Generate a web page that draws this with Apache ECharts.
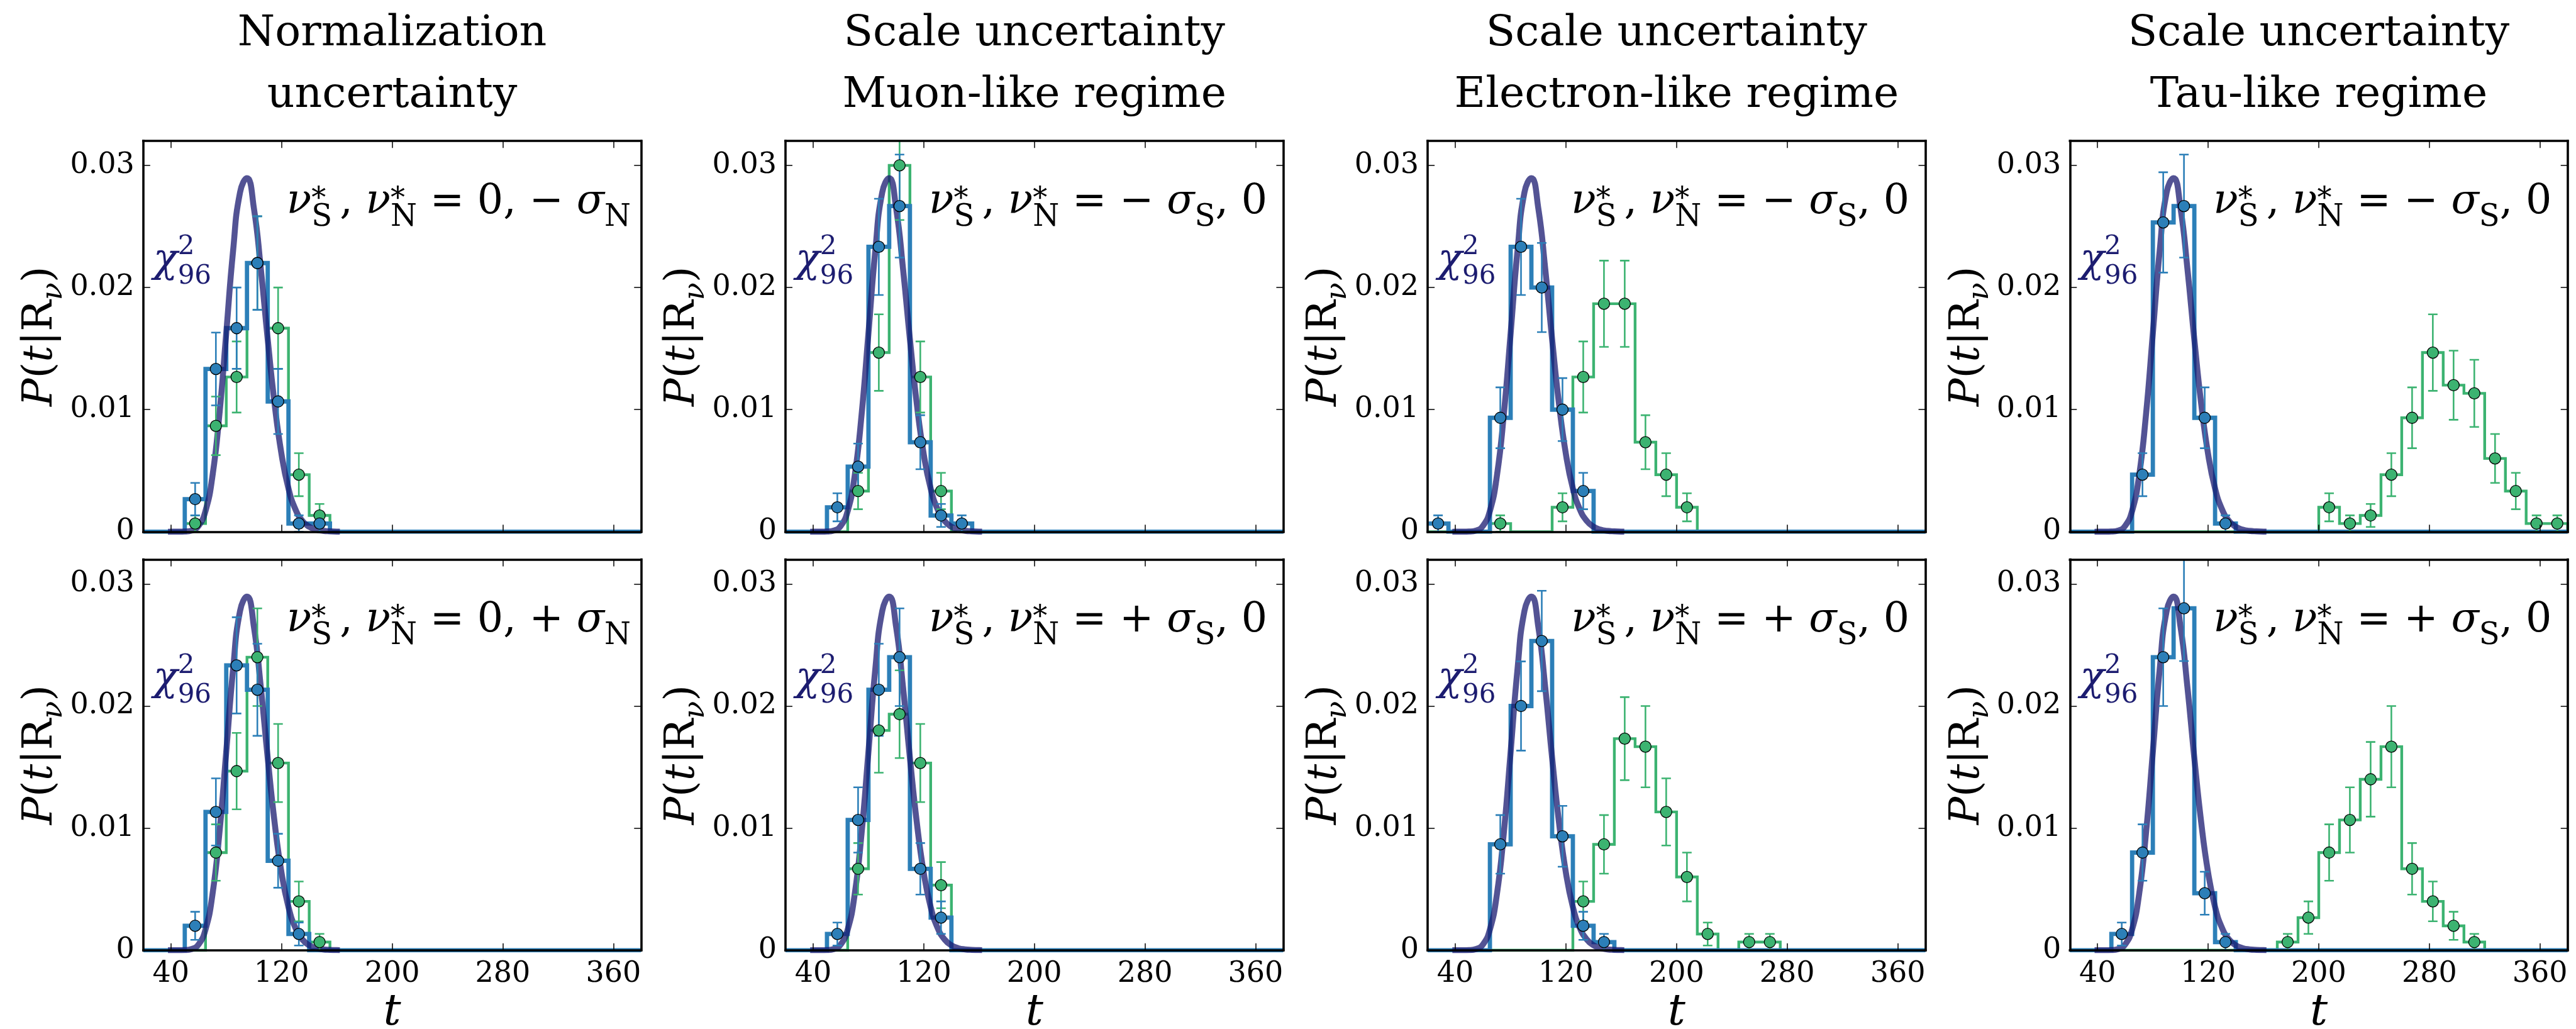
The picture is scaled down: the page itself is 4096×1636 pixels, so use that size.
<!DOCTYPE html>
<html>
<head>
<meta charset="utf-8">
<script src="https://cdn.jsdelivr.net/npm/echarts@6/dist/echarts.min.js"></script>
<style>
  html, body { margin: 0; padding: 0; background: #ffffff; }
  #chart { width: 4096px; height: 1636px; }
</style>
</head>
<body>
<div id="chart"></div>
<script>
// ---- histogram binning (t) and axis ticks ----
const binEdges = [20, 35, 50, 65, 80, 95, 110, 125, 140, 155, 170, 185, 200, 215, 230, 245, 260, 275, 290, 305, 320, 335, 350, 365, 380];
const xTicks = [40, 120, 200, 280, 360];
const yTicks = [0, 0.01, 0.02, 0.03];

// ---- chi^2 (96 dof) reference density ----
const chiT = [40, 45, 50, 55, 60, 65, 70, 75, 80, 85, 90, 95, 100, 105, 110, 115, 120, 125, 130, 135, 140, 145, 150, 155, 160];
const chiP = [0.0000001, 0.0000012, 0.0000135, 0.000098, 0.000481, 0.0017, 0.00454, 0.00954, 0.01626, 0.02307, 0.0278, 0.02896, 0.02649, 0.02154, 0.01574, 0.01044, 0.00633, 0.00354, 0.00184, 0.00089, 0.0004, 0.00017, 0.00007, 0.00003, 0.00001];

// ---- normalization uncertainty ----
const normMinusBlue     = [0, 0, 0.00267, 0.01333, 0.01667, 0.022, 0.01067, 0.00067, 0.00067, 0, 0, 0, 0, 0, 0, 0, 0, 0, 0, 0, 0, 0, 0, 0];
const normMinusBlueErr  = [0, 0, 0.00133, 0.00298, 0.00333, 0.00383, 0.00267, 0.00067, 0.00067, 0, 0, 0, 0, 0, 0, 0, 0, 0, 0, 0, 0, 0, 0, 0];
const normMinusGreen    = [0, 0, 0.00067, 0.00867, 0.01267, 0.022, 0.01667, 0.00467, 0.00133, 0, 0, 0, 0, 0, 0, 0, 0, 0, 0, 0, 0, 0, 0, 0];
const normMinusGreenErr = [0, 0, 0.00067, 0.0024, 0.00291, 0.00383, 0.00333, 0.00176, 0.00094, 0, 0, 0, 0, 0, 0, 0, 0, 0, 0, 0, 0, 0, 0, 0];

const normPlusBlue      = [0, 0, 0.002, 0.01133, 0.02333, 0.02133, 0.00733, 0.00133, 0, 0, 0, 0, 0, 0, 0, 0, 0, 0, 0, 0, 0, 0, 0, 0];
const normPlusBlueErr   = [0, 0, 0.00115, 0.00275, 0.00394, 0.00377, 0.00221, 0.00094, 0, 0, 0, 0, 0, 0, 0, 0, 0, 0, 0, 0, 0, 0, 0, 0];
const normPlusGreen     = [0, 0, 0, 0.008, 0.01467, 0.024, 0.01533, 0.004, 0.00067, 0, 0, 0, 0, 0, 0, 0, 0, 0, 0, 0, 0, 0, 0, 0];
const normPlusGreenErr  = [0, 0, 0, 0.00231, 0.00313, 0.004, 0.0032, 0.00163, 0.00067, 0, 0, 0, 0, 0, 0, 0, 0, 0, 0, 0, 0, 0, 0, 0];

// ---- scale uncertainty, muon-like ----
const muonMinusBlue     = [0, 0, 0.002, 0.00533, 0.02333, 0.02667, 0.00733, 0.00133, 0.00067, 0, 0, 0, 0, 0, 0, 0, 0, 0, 0, 0, 0, 0, 0, 0];
const muonMinusBlueErr  = [0, 0, 0.00115, 0.00189, 0.00394, 0.00422, 0.00221, 0.00094, 0.00067, 0, 0, 0, 0, 0, 0, 0, 0, 0, 0, 0, 0, 0, 0, 0];
const muonMinusGreen    = [0, 0, 0, 0.00333, 0.01467, 0.03, 0.01267, 0.00333, 0, 0, 0, 0, 0, 0, 0, 0, 0, 0, 0, 0, 0, 0, 0, 0];
const muonMinusGreenErr = [0, 0, 0, 0.00149, 0.00313, 0.00447, 0.00291, 0.00149, 0, 0, 0, 0, 0, 0, 0, 0, 0, 0, 0, 0, 0, 0, 0, 0];

const muonPlusBlue      = [0, 0, 0.00133, 0.01067, 0.02133, 0.024, 0.00667, 0.00267, 0, 0, 0, 0, 0, 0, 0, 0, 0, 0, 0, 0, 0, 0, 0, 0];
const muonPlusBlueErr   = [0, 0, 0.00094, 0.00267, 0.00377, 0.004, 0.00211, 0.00133, 0, 0, 0, 0, 0, 0, 0, 0, 0, 0, 0, 0, 0, 0, 0, 0];
const muonPlusGreen     = [0, 0, 0, 0.00667, 0.018, 0.01933, 0.01533, 0.00533, 0, 0, 0, 0, 0, 0, 0, 0, 0, 0, 0, 0, 0, 0, 0, 0];
const muonPlusGreenErr  = [0, 0, 0, 0.00211, 0.00346, 0.00359, 0.0032, 0.00189, 0, 0, 0, 0, 0, 0, 0, 0, 0, 0, 0, 0, 0, 0, 0, 0];

// ---- scale uncertainty, electron-like ----
const electronMinusBlue     = [0.00067, 0, 0, 0.00933, 0.02333, 0.02, 0.01, 0.00333, 0, 0, 0, 0, 0, 0, 0, 0, 0, 0, 0, 0, 0, 0, 0, 0];
const electronMinusBlueErr  = [0.00067, 0, 0, 0.00249, 0.00394, 0.00365, 0.00258, 0.00149, 0, 0, 0, 0, 0, 0, 0, 0, 0, 0, 0, 0, 0, 0, 0, 0];
const electronMinusGreen    = [0, 0, 0, 0.00067, 0, 0, 0.002, 0.01267, 0.01867, 0.01867, 0.00733, 0.00467, 0.002, 0, 0, 0, 0, 0, 0, 0, 0, 0, 0, 0];
const electronMinusGreenErr = [0, 0, 0, 0.00067, 0, 0, 0.00115, 0.00291, 0.00353, 0.00353, 0.00221, 0.00176, 0.00115, 0, 0, 0, 0, 0, 0, 0, 0, 0, 0, 0];

const electronPlusBlue      = [0, 0, 0, 0.00867, 0.02, 0.02533, 0.00933, 0.002, 0.00067, 0, 0, 0, 0, 0, 0, 0, 0, 0, 0, 0, 0, 0, 0, 0];
const electronPlusBlueErr   = [0, 0, 0, 0.0024, 0.00365, 0.00411, 0.00249, 0.00115, 0.00067, 0, 0, 0, 0, 0, 0, 0, 0, 0, 0, 0, 0, 0, 0, 0];
const electronPlusGreen     = [0, 0, 0, 0, 0, 0, 0, 0.004, 0.00867, 0.01733, 0.01667, 0.01133, 0.006, 0.00133, 0, 0.00067, 0.00067, 0, 0, 0, 0, 0, 0, 0];
const electronPlusGreenErr  = [0, 0, 0, 0, 0, 0, 0, 0.00163, 0.0024, 0.0034, 0.00333, 0.00275, 0.002, 0.00094, 0, 0.00067, 0.00067, 0, 0, 0, 0, 0, 0, 0];

// ---- scale uncertainty, tau-like ----
const tauMinusBlue      = [0, 0, 0, 0.00467, 0.02533, 0.02667, 0.00933, 0.00067, 0, 0, 0, 0, 0, 0, 0, 0, 0, 0, 0, 0, 0, 0, 0, 0];
const tauMinusBlueErr   = [0, 0, 0, 0.00176, 0.00411, 0.00422, 0.00249, 0.00067, 0, 0, 0, 0, 0, 0, 0, 0, 0, 0, 0, 0, 0, 0, 0, 0];
const tauMinusGreen     = [0, 0, 0, 0, 0, 0, 0, 0, 0, 0, 0, 0, 0.002, 0.00067, 0.00133, 0.00467, 0.00933, 0.01467, 0.012, 0.01133, 0.006, 0.00333, 0.00067, 0.00067];
const tauMinusGreenErr  = [0, 0, 0, 0, 0, 0, 0, 0, 0, 0, 0, 0, 0.00115, 0.00067, 0.00094, 0.00176, 0.00249, 0.00313, 0.00283, 0.00275, 0.002, 0.00149, 0.00067, 0.00067];

const tauPlusBlue       = [0, 0, 0.00133, 0.008, 0.024, 0.028, 0.00467, 0.00067, 0, 0, 0, 0, 0, 0, 0, 0, 0, 0, 0, 0, 0, 0, 0, 0];
const tauPlusBlueErr    = [0, 0, 0.00094, 0.00231, 0.004, 0.00432, 0.00176, 0.00067, 0, 0, 0, 0, 0, 0, 0, 0, 0, 0, 0, 0, 0, 0, 0, 0];
const tauPlusGreen      = [0, 0, 0, 0, 0, 0, 0, 0, 0, 0, 0.00067, 0.00267, 0.008, 0.01067, 0.014, 0.01667, 0.00667, 0.004, 0.002, 0.00067, 0, 0, 0, 0];
const tauPlusGreenErr   = [0, 0, 0, 0, 0, 0, 0, 0, 0, 0, 0.00067, 0.00133, 0.00231, 0.00267, 0.00306, 0.00333, 0.00211, 0.00163, 0.00115, 0.00067, 0, 0, 0, 0];

// ---- column titles ----
const columnTitles = [
  ['Normalization', 'uncertainty'],
  ['Scale uncertainty', 'Muon-like regime'],
  ['Scale uncertainty', 'Electron-like regime'],
  ['Scale uncertainty', 'Tau-like regime']
];

// ---- nuisance-parameter settings written in each panel ----
const nuHead = '{it|ν}{sp|*}{sb|S}{gap| }{rm|, }{it|ν}{sp|*}{sb|N}{rm| = }';
const shiftLabels = {
  normMinus: '{rm|0, − }{it|σ}{sb|N}',
  normPlus:  '{rm|0, + }{it|σ}{sb|N}',
  scaleMinus: '{rm|− }{it|σ}{sb|S}{rm|, 0}',
  scalePlus:  '{rm|+ }{it|σ}{sb|S}{rm|, 0}'
};

const panels = [
  { col: 0, row: 0, blue: normMinusBlue, blueErr: normMinusBlueErr, green: normMinusGreen, greenErr: normMinusGreenErr, shift: 'normMinus' },
  { col: 1, row: 0, blue: muonMinusBlue, blueErr: muonMinusBlueErr, green: muonMinusGreen, greenErr: muonMinusGreenErr, shift: 'scaleMinus' },
  { col: 2, row: 0, blue: electronMinusBlue, blueErr: electronMinusBlueErr, green: electronMinusGreen, greenErr: electronMinusGreenErr, shift: 'scaleMinus' },
  { col: 3, row: 0, blue: tauMinusBlue, blueErr: tauMinusBlueErr, green: tauMinusGreen, greenErr: tauMinusGreenErr, shift: 'scaleMinus' },
  { col: 0, row: 1, blue: normPlusBlue, blueErr: normPlusBlueErr, green: normPlusGreen, greenErr: normPlusGreenErr, shift: 'normPlus' },
  { col: 1, row: 1, blue: muonPlusBlue, blueErr: muonPlusBlueErr, green: muonPlusGreen, greenErr: muonPlusGreenErr, shift: 'scalePlus' },
  { col: 2, row: 1, blue: electronPlusBlue, blueErr: electronPlusBlueErr, green: electronPlusGreen, greenErr: electronPlusGreenErr, shift: 'scalePlus' },
  { col: 3, row: 1, blue: tauPlusBlue, blueErr: tauPlusBlueErr, green: tauPlusGreen, greenErr: tauPlusGreenErr, shift: 'scalePlus' }
];

// ---- layout and style ----
const S = 0.93;
const colLeft = [245, 1343, 2441, 3539].map(v => v * S);
const rowTop = [241, 956.5].map(v => v * S);
const panelW = 851 * S;
const panelH = 668 * S;
const FONT = 'DejaVu Serif';
const BLUE = '#2c7fb8';
const GREEN = '#3cb371';
const CHI_LINE = 'rgba(25,25,112,0.75)';
const CHI_TEXT = '#1c1c70';
const TICK_FONT = 46;

const binCenters = binEdges.slice(0, -1).map((e, i) => (e + binEdges[i + 1]) / 2);

function stepData(vals) {
  const last = binEdges[binEdges.length - 1];
  const d = vals.map((v, i) => [binEdges[i], v]);
  d.push([last, vals[vals.length - 1]]);
  d.push([last, 0]);
  return d;
}
function pointData(vals, errs) {
  const d = [];
  vals.forEach((v, i) => { if (v > 0) d.push([binCenters[i], v, errs[i]]); });
  return d;
}

// rich-text token: size, baseline shift (+ down), italic, baseline offset B of the block
function tok(size, shift, italic, B, color, extra) {
  return Object.assign({
    fontSize: size, fontFamily: FONT, fontStyle: italic ? 'italic' : 'normal',
    fill: color, color: color, height: size, lineHeight: size, verticalAlign: 'top',
    padding: [Math.max(0, B + shift - 0.83 * size), 0, 0, 0]
  }, extra || {});
}

const B_NU = 56;
const richNu = {
  it: tok(65, 0, true, B_NU, '#000'),
  rm: tok(65, 0, false, B_NU, '#000'),
  sp: tok(46, -10, false, B_NU, '#000', { width: 0 }),
  sb: tok(48, 19, false, B_NU, '#000'),
  gap: tok(65, 0, false, B_NU, '#000', { width: 12 })
};
const B_CHI = 64;
const richChi = {
  chi: tok(64, 0, true, B_CHI, CHI_TEXT),
  csp: tok(42, -29, false, B_CHI, CHI_TEXT, { width: 0 }),
  csb: tok(42, 18, false, B_CHI, CHI_TEXT)
};
const B_Y = 56;
const richY = {
  it: tok(66, 0, true, B_Y, '#000'),
  rm: tok(66, 0, false, B_Y, '#000'),
  sb: tok(46, 14, true, B_Y, '#000')
};

function errorBarRenderer(capHalf, lw) {
  return function (params, api) {
    const x = api.value(0), y = api.value(1), e = api.value(2);
    const top = api.coord([x, Math.min(y + e, 0.032)]);
    const bot = api.coord([x, Math.max(y - e, 0)]);
    const style = { stroke: api.visual('color'), lineWidth: lw, fill: null };
    const children = [
      { type: 'line', shape: { x1: top[0], y1: top[1], x2: bot[0], y2: bot[1] }, style: style }
    ];
    if (y + e <= 0.032) children.push({ type: 'line', shape: { x1: top[0] - capHalf, y1: top[1], x2: top[0] + capHalf, y2: top[1] }, style: style });
    children.push({ type: 'line', shape: { x1: bot[0] - capHalf, y1: bot[1], x2: bot[0] + capHalf, y2: bot[1] }, style: style });
    return { type: 'group', children: children };
  };
}

const grids = [], xAxes = [], yAxes = [], series = [], graphics = [];
const frameLine = { show: true, onZero: false, lineStyle: { color: '#000', width: 3.6, cap: 'square' } };
const tickStyle = { show: true, inside: true, length: 11, lineStyle: { color: '#000', width: 1.5 } };

panels.forEach((p, k) => {
  const left = colLeft[p.col], top = rowTop[p.row];
  grids.push({ left: left, top: top, width: panelW, height: panelH, containLabel: false });

  xAxes.push({
    gridIndex: k, type: 'value', min: 20, max: 380, position: 'bottom', z: 10,
    axisLine: frameLine, splitLine: { show: false },
    axisTick: Object.assign({ customValues: xTicks }, tickStyle),
    axisLabel: { show: p.row === 1, customValues: xTicks, fontFamily: FONT, fontSize: TICK_FONT, color: '#000', margin: 15 }
  });
  xAxes.push({
    gridIndex: k, type: 'value', min: 20, max: 380, position: 'top', z: 10,
    axisLine: frameLine, splitLine: { show: false },
    axisTick: Object.assign({ customValues: xTicks }, tickStyle),
    axisLabel: { show: false }
  });
  yAxes.push({
    gridIndex: k, type: 'value', min: 0, max: 0.032, position: 'left', z: 10,
    axisLine: frameLine, splitLine: { show: false },
    axisTick: Object.assign({ customValues: yTicks }, tickStyle),
    axisLabel: {
      customValues: yTicks, fontFamily: FONT, fontSize: TICK_FONT, color: '#000', margin: 14,
      formatter: v => (v === 0 ? '0' : v.toFixed(2))
    }
  });
  yAxes.push({
    gridIndex: k, type: 'value', min: 0, max: 0.032, position: 'right', z: 10,
    axisLine: frameLine, splitLine: { show: false },
    axisTick: Object.assign({ customValues: yTicks }, tickStyle),
    axisLabel: { show: false }
  });

  const ax = { xAxisIndex: 2 * k, yAxisIndex: 2 * k };
  series.push(Object.assign({
    type: 'line', step: 'end', symbol: 'none', z: 2, silent: true,
    data: stepData(p.green), lineStyle: { color: GREEN, width: 4.4, join: 'miter' }
  }, ax));
  series.push(Object.assign({
    type: 'line', step: 'end', symbol: 'none', z: 3, silent: true,
    data: stepData(p.blue), lineStyle: { color: BLUE, width: 6.8, join: 'miter' }
  }, ax));
  series.push(Object.assign({
    type: 'line', smooth: true, symbol: 'none', z: 4, silent: true,
    data: chiT.map((t, i) => [t, chiP[i]]),
    lineStyle: { color: CHI_LINE, width: 9.5, cap: 'square' }
  }, ax));
  series.push(Object.assign({
    type: 'custom', z: 5, silent: true, clip: true,
    itemStyle: { color: GREEN }, renderItem: errorBarRenderer(7.5, 2.6),
    data: pointData(p.green, p.greenErr)
  }, ax));
  series.push(Object.assign({
    type: 'custom', z: 6, silent: true, clip: true,
    itemStyle: { color: BLUE }, renderItem: errorBarRenderer(7.5, 2.6),
    data: pointData(p.blue, p.blueErr)
  }, ax));
  series.push(Object.assign({
    type: 'scatter', z: 7, silent: true, symbol: 'circle', symbolSize: 18,
    itemStyle: { color: GREEN, borderColor: '#000', borderWidth: 1.3, opacity: 1 },
    data: pointData(p.green, p.greenErr).map(d => [d[0], d[1]])
  }, ax));
  series.push(Object.assign({
    type: 'scatter', z: 8, silent: true, symbol: 'circle', symbolSize: 18,
    itemStyle: { color: BLUE, borderColor: '#000', borderWidth: 1.3, opacity: 1 },
    data: pointData(p.blue, p.blueErr).map(d => [d[0], d[1]])
  }, ax));

  // chi^2_96 tag
  graphics.push({
    type: 'text', silent: true, z: 100, x: left + 16, y: top + 212 - B_CHI,
    style: { text: '{chi|χ}{csp|2}{csb|96}', rich: richChi, align: 'left', verticalAlign: 'top' }
  });
  // nuisance-parameter setting
  graphics.push({
    type: 'text', silent: true, z: 100, x: left + 228, y: top + 119 - B_NU,
    style: { text: nuHead + shiftLabels[p.shift], rich: richNu, align: 'left', verticalAlign: 'top' }
  });
  // y-axis title, rotated
  graphics.push({
    type: 'text', silent: true, z: 100, rotation: Math.PI / 2,
    x: left - 141 - B_Y, y: top + panelH / 2,
    style: { text: '{it|P}{rm|(}{it|t}{rm||R}{sb|ν}{rm|)}', rich: richY, align: 'center', verticalAlign: 'top' }
  });
  // x-axis title on the lower row
  if (p.row === 1) {
    graphics.push({
      type: 'text', silent: true, z: 100, x: left + panelW / 2, y: 1611,
      style: { text: 't', fontFamily: FONT, fontStyle: 'italic', fontSize: 70, fill: '#000', align: 'center', verticalAlign: 'middle' }
    });
  }
});

// column titles
columnTitles.forEach((lines, c) => {
  const cx = colLeft[c] + panelW / 2;
  [54, 152].forEach((cy, j) => {
    graphics.push({
      type: 'text', silent: true, z: 100, x: cx, y: cy,
      style: { text: lines[j], fontFamily: FONT, fontSize: 68, fill: '#000', align: 'center', verticalAlign: 'middle' }
    });
  });
});

const chart = echarts.init(document.getElementById('chart'), null, { renderer: 'canvas' });
chart.setOption({
  animation: false,
  backgroundColor: '#ffffff',
  grid: grids,
  xAxis: xAxes,
  yAxis: yAxes,
  series: series,
  graphic: { elements: graphics }
});
</script>
</body>
</html>
